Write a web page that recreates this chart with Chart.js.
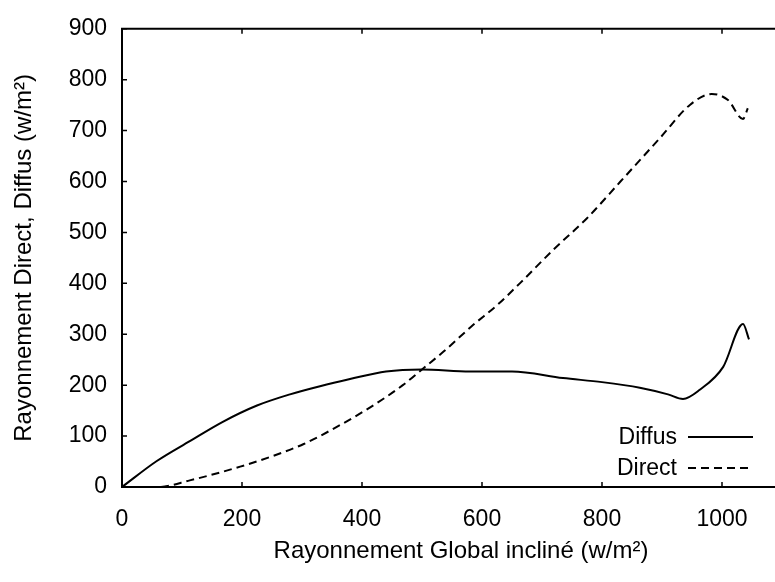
<!DOCTYPE html>
<html>
<head>
<meta charset="utf-8">
<title>Rayonnement</title>
<script src="https://cdn.jsdelivr.net/npm/chart.js@4.4.1/dist/chart.umd.min.js"></script>
<style>
  html, body { margin: 0; padding: 0; background: #fff; overflow: hidden; }
</style>
</head>
<body>
<canvas id="rayChart" width="808" height="582"></canvas>
<script>
// global tilted irradiance (x) vs diffuse and direct components (y), w/m²
var diffusX = [0, 58, 113, 168, 225, 280, 330, 380, 440, 500, 580, 650, 735, 800, 863, 910, 935, 963, 1002, 1035, 1045];
var diffusY = [0, 51, 90, 128, 160, 182, 198, 212, 227, 231, 227, 227, 214, 206, 195, 182, 173, 191, 236, 320, 290];

var directX = [0, 60, 113, 197, 247, 302, 358, 413, 468, 500, 535, 585, 625, 663, 718, 775, 830, 897, 947, 983, 1010, 1035, 1043];
var directY = [0, 0, 13, 40, 59, 84, 118, 156, 200, 231, 265, 318, 357, 400, 465, 528, 599, 686, 751, 772, 760, 723, 744];

var seriesNames = ['Diffus', 'Direct'];

function toPoints(xs, ys) {
  return xs.map(function (x, i) { return { x: x, y: ys[i] }; });
}

var FONT = 'Arial, "Liberation Sans", sans-serif';

// closes the frame on top/right, draws inward ticks and the legend
var frameTicks = {
  id: 'frameTicks',
  afterDraw: function (chart) {
    var c = chart.ctx, a = chart.chartArea;
    var xs = chart.scales.x, ys = chart.scales.y;
    c.save();
    c.strokeStyle = '#000';
    c.lineWidth = 2;
    c.beginPath();
    c.moveTo(a.left - 1, a.top);
    c.lineTo(a.right, a.top);
    c.lineTo(a.right, a.bottom);
    c.stroke();

    c.lineWidth = 1.5;
    c.beginPath();
    xs.ticks.forEach(function (t) {
      var px = xs.getPixelForValue(t.value);
      c.moveTo(px, a.bottom); c.lineTo(px, a.bottom - 5);
      c.moveTo(px, a.top); c.lineTo(px, a.top + 5);
    });
    ys.ticks.forEach(function (t) {
      var py = ys.getPixelForValue(t.value);
      c.moveTo(a.left, py); c.lineTo(a.left + 5, py);
      c.moveTo(a.right, py); c.lineTo(a.right - 5, py);
    });
    c.stroke();

    // legend: label on the left, line sample on the right
    c.font = '23px ' + FONT;
    c.fillStyle = '#000';
    c.textAlign = 'right';
    c.textBaseline = 'middle';
    chart.data.datasets.forEach(function (ds, i) {
      var y = 437 + i * 31;
      c.fillText(ds.label, 677, y + 1);
      c.setLineDash(ds.borderDash || []);
      c.lineWidth = 2;
      c.beginPath();
      c.moveTo(688, y);
      c.lineTo(753, y);
      c.stroke();
    });
    c.restore();
  }
};

new Chart(document.getElementById('rayChart'), {
  type: 'line',
  data: {
    datasets: [
      {
        label: seriesNames[0],
        data: toPoints(diffusX, diffusY),
        borderColor: '#000',
        borderWidth: 2,
        pointRadius: 0,
        cubicInterpolationMode: 'monotone'
      },
      {
        label: seriesNames[1],
        data: toPoints(directX, directY),
        borderColor: '#000',
        borderWidth: 2,
        borderDash: [8, 5],
        pointRadius: 0,
        cubicInterpolationMode: 'monotone'
      }
    ]
  },
  options: {
    responsive: false,
    animation: false,
    layout: { padding: { top: 15, left: 0, right: 8, bottom: 0 } },
    plugins: {
      legend: { display: false },
      tooltip: { enabled: false }
    },
    scales: {
      x: {
        type: 'linear',
        min: 0,
        max: 1130,
        afterFit: function (s) { s.height = 95; },
        grid: { display: false, drawTicks: false },
        border: { display: true, color: '#000', width: 2 },
        ticks: {
          stepSize: 200,
          includeBounds: false,
          maxRotation: 0,
          padding: 19,
          color: '#000',
          font: { family: FONT, size: 23 },
          callback: function (v) { return String(v); }
        },
        title: {
          display: true,
          text: 'Rayonnement Global incliné (w/m²)',
          color: '#000',
          font: { family: FONT, size: 24 },
          padding: { top: 0, bottom: 16 }
        }
      },
      y: {
        min: 0,
        max: 900,
        afterFit: function (s) { s.width = 122; },
        grid: { display: false, drawTicks: false },
        border: { display: true, color: '#000', width: 2 },
        ticks: {
          stepSize: 100,
          padding: 15,
          color: '#000',
          font: { family: FONT, size: 23 }
        },
        title: {
          display: true,
          text: 'Rayonnement Direct, Diffus (w/m²)',
          color: '#000',
          font: { family: FONT, size: 24 },
          padding: { top: 10, bottom: 0 }
        }
      }
    }
  },
  plugins: [frameTicks]
});
</script>
</body>
</html>
